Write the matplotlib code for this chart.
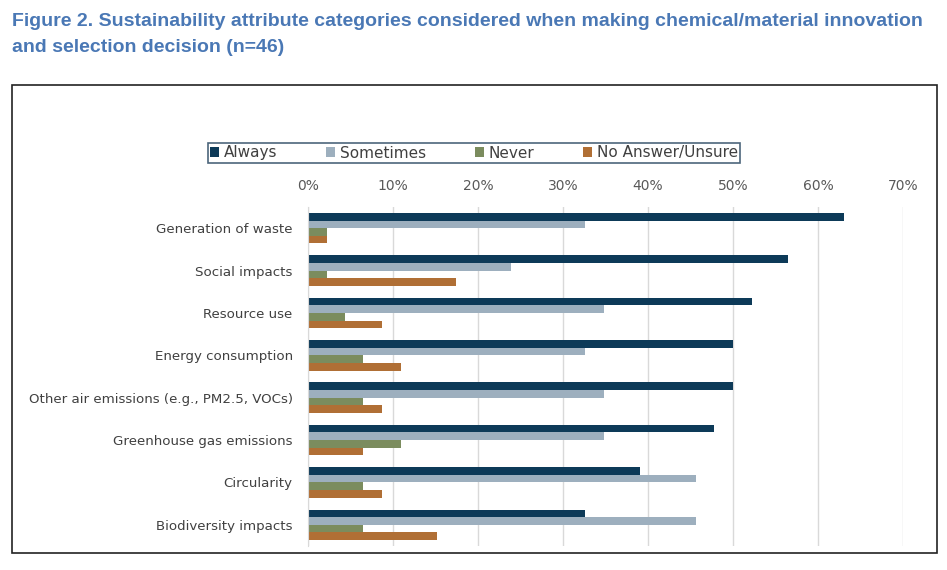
import matplotlib.pyplot as plt
import numpy as np
from matplotlib.patches import Rectangle

categories = ["Generation of waste", "Social impacts", "Resource use", "Energy consumption",
              "Other air emissions (e.g., PM2.5, VOCs)", "Greenhouse gas emissions",
              "Circularity", "Biodiversity impacts"]
series = ["Always", "Sometimes", "Never", "No Answer/Unsure"]
always = [63.0, 56.5, 52.2, 50.0, 50.0, 47.8, 39.1, 32.6]
sometimes = [32.6, 23.9, 34.8, 32.6, 34.8, 34.8, 45.7, 45.7]
never = [2.2, 2.2, 4.3, 6.5, 6.5, 10.9, 6.5, 6.5]
no_answer = [2.2, 17.4, 8.7, 10.9, 8.7, 6.5, 8.7, 15.2]
ticks = [0, 10, 20, 30, 40, 50, 60, 70]

colors = ["#0d3a58", "#9dafbe", "#7b8c5e", "#b06f35"]
values = [always, sometimes, never, no_answer]

fig = plt.figure(figsize=(9.47, 5.70), dpi=100)

# outer frame
fig.patches.append(Rectangle((12/947, 1 - 553/570), 925/947, 468/570, transform=fig.transFigure,
                             fill=False, edgecolor="#222222", linewidth=1.2))

title_font = ["Liberation Sans", "DejaVu Sans"]
fig.text(12/947, 1 - 21/570, "Figure 2. Sustainability attribute categories considered when making chemical/material innovation",
         color="#4a78b5", fontsize=14, fontweight="bold", va="center", family=title_font)
fig.text(12/947, 1 - 48/570, "and selection decision (n=46)",
         color="#4a78b5", fontsize=14, fontweight="bold", va="center", family=title_font)

ax = fig.add_axes([308/947, 1 - 546/570, (903 - 308)/947, (546 - 207)/570])

y = np.arange(len(categories))
h = 0.18
for i, (name, vals) in enumerate(zip(series, values)):
    ax.barh(y + (i - 1.5) * h, vals, height=h, color=colors[i], label=name)

ax.set_xlim(0, 70)
ax.set_ylim(len(categories) - 0.5, -0.5)
ax.set_xticks(ticks)
ax.set_xticklabels([f"{t}%" for t in ticks])
ax.xaxis.tick_top()
ax.tick_params(axis="x", length=0, labelsize=10, colors="#595959", pad=10)
ax.set_yticks(y)
ax.set_yticklabels(categories)
ax.tick_params(axis="y", length=0, labelsize=9.6, colors="#404040", pad=11)
ax.grid(axis="x", color="#d9d9d9", linewidth=1)
ax.set_axisbelow(True)
for s in ["top", "right", "bottom"]:
    ax.spines[s].set_visible(False)
ax.spines["left"].set_color("#d9d9d9")

leg = fig.legend(loc="center", bbox_to_anchor=(200/947, 1 - 163/570, 548/947, 20/570), mode="expand",
                 ncol=4, frameon=True, fancybox=False, edgecolor="#1f3f5a", fontsize=11,
                 handlelength=0.6, handleheight=0.6, handletextpad=0.3, borderpad=0.15)
leg.get_frame().set_linewidth(1.2)
for t in leg.get_texts():
    t.set_color("#404040")

fig.savefig("out.png", dpi=100)
